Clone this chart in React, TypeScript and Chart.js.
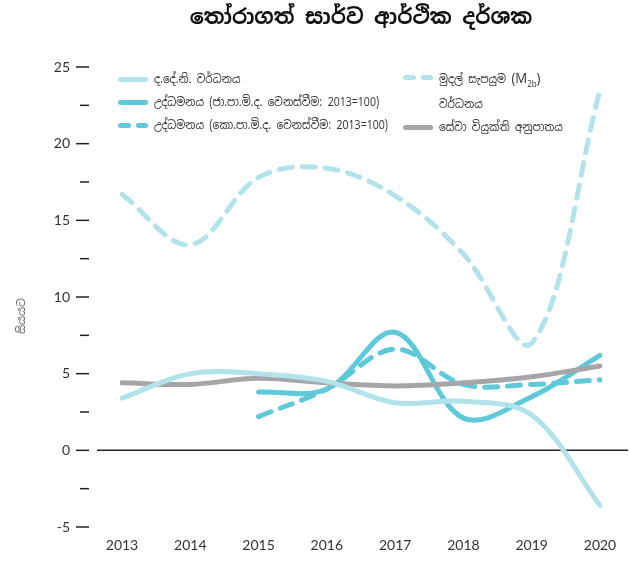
import React, { useEffect, useRef } from "react";
import { Chart, registerables } from "chart.js";

Chart.register(...registerables);

const years = ["2013", "2014", "2015", "2016", "2017", "2018", "2019", "2020"];
const gdpGrowth = [3.4, 5.0, 5.0, 4.5, 3.1, 3.2, 2.3, -3.6];
const inflationNcpi = [null, null, 3.8, 4.0, 7.7, 2.1, 3.5, 6.2];
const inflationCcpi = [null, null, 2.2, 4.0, 6.6, 4.3, 4.3, 4.6];
const m2bGrowth = [16.7, 13.4, 17.8, 18.4, 16.6, 12.8, 7.0, 23.5];
const unemployment = [4.4, 4.3, 4.7, 4.4, 4.2, 4.4, 4.8, 5.5];

const titleText = "තෝරාගත් සාර්ව ආර්ථික දර්ශක";
const yAxisTitle = "සියයට";
const labelGdp = "ද.දේ.නි. වර්ධනය";
const labelNcpi = "උද්ධමනය (ජා.පා.මි.ද. වෙනස්වීම: 2013=100)";
const labelCcpi = "උද්ධමනය (කො.පා.මි.ද. වෙනස්වීම: 2013=100)";
const labelM2bA = "මුදල් සැපයුම ";
const labelM2bB = "(M";
const labelM2bSub = "2b";
const labelM2bC = ")";
const labelM2bLine2 = "වර්ධනය";
const labelUnemp = "සේවා වියුක්ති අනුපාතය";

const LIGHT = "#b3e3ea";
const TEAL = "#5ec9d9";
const GREY = "#a6a6aa";
const FONT = "'Noto Sans Sinhala', 'Noto Sans', sans-serif";

const axisDecor = {
  id: "axisDecor",
  beforeDatasetsDraw(chart: any) {
    const { ctx, scales, chartArea } = chart;
    const y = scales.y;
    ctx.save();
    ctx.strokeStyle = "#222";
    ctx.lineWidth = 1.5;
    const y0 = y.getPixelForValue(0);
    ctx.beginPath();
    ctx.moveTo(chartArea.left - 25, y0);
    ctx.lineTo(chartArea.right + 28, y0);
    ctx.stroke();
    y.ticks.forEach((t: any) => {
      const py = y.getPixelForValue(t.value);
      const major = Math.abs(t.value % 5) < 1e-6;
      ctx.beginPath();
      ctx.moveTo(chartArea.left - (major ? 46 : 42), py);
      ctx.lineTo(chartArea.left - 33, py);
      ctx.stroke();
    });
    ctx.restore();
  },
};

function Sample({ color, dashed }: { color: string; dashed?: boolean }) {
  if (dashed) {
    return (
      <div style={{ display: "flex", gap: 5, width: 30 }}>
        <div style={{ width: 13, height: 5, borderRadius: 3, background: color }} />
        <div style={{ width: 12, height: 5, borderRadius: 3, background: color }} />
      </div>
    );
  }
  return <div style={{ width: 30, height: 5, borderRadius: 3, background: color }} />;
}

function LegendItem({ x, y, color, dashed, children }: any) {
  return (
    <div style={{ position: "absolute", left: x, top: y, display: "flex", alignItems: "flex-start" }}>
      <div style={{ marginTop: 8, marginRight: 6 }}>
        <Sample color={color} dashed={dashed} />
      </div>
      <div style={{ fontFamily: FONT, fontSize: 12, color: "#333", lineHeight: "21px", whiteSpace: "nowrap", transform: "scaleX(0.88)", transformOrigin: "left center" }}>{children}</div>
    </div>
  );
}

export default function App() {
  const ref = useRef<HTMLCanvasElement>(null);
  useEffect(() => {
    if (!ref.current) return;
    const common = { fill: false, pointRadius: 0, borderWidth: 5, tension: 0.35, borderCapStyle: "round" as const, borderJoinStyle: "round" as const };
    const chart = new Chart(ref.current, {
      type: "line",
      data: {
        labels: years,
        datasets: [
          { ...common, label: labelM2bA, data: m2bGrowth, borderColor: LIGHT, borderDash: [13, 10] },
          { ...common, label: labelGdp, data: gdpGrowth, borderColor: LIGHT },
          { ...common, label: labelUnemp, data: unemployment, borderColor: GREY },
          { ...common, label: labelCcpi, data: inflationCcpi as any, borderColor: TEAL, borderDash: [13, 10] },
          { ...common, label: labelNcpi, data: inflationNcpi as any, borderColor: TEAL },
        ],
      },
      plugins: [axisDecor],
      options: {
        animation: false,
        responsive: true,
        maintainAspectRatio: false,
        layout: { padding: { top: 67, right: 30, left: 0, bottom: 0 } },
        plugins: { legend: { display: false }, title: { display: false }, tooltip: { enabled: false } },
        scales: {
          x: {
            offset: false,
            grid: { display: false, drawTicks: false },
            border: { display: false },
            ticks: { color: "#333", font: { family: "Lato, 'Open Sans', sans-serif", size: 14 }, padding: 10, maxRotation: 0 },
            afterFit: (s: any) => { s.height = 37; },
          },
          y: {
            min: -5,
            max: 25,
            grid: { display: true, drawOnChartArea: false, drawTicks: false },
            border: { display: false },
            ticks: {
              stepSize: 2.5,
              padding: 52,
              color: "#333",
              font: { family: "Lato, 'Open Sans', sans-serif", size: 14 },
              callback: (v: any) => (Math.abs(Number(v) % 5) < 1e-6 ? String(v) : ""),
              autoSkip: false,
            },
            afterFit: (s: any) => { s.width = 122; s.paddingTop = 8; s.paddingBottom = 8; },
          },
        },
      },
    });
    return () => chart.destroy();
  }, []);

  return (
    <div style={{ position: "fixed", left: 0, top: 0, width: 630, height: 564, background: "#fff" }}>
      <div style={{ position: "absolute", left: 0, top: 0, width: 630, height: 564 }}>
        <canvas ref={ref} />
      </div>
      <div style={{ position: "absolute", left: 96, width: 530, top: 3, textAlign: "center", fontFamily: FONT, fontWeight: 700, fontSize: 21, color: "#111" }}>
        {titleText}
      </div>
      <div style={{ position: "absolute", left: 21, top: 316, transform: "translate(-50%, -50%) rotate(-90deg)", fontFamily: FONT, fontSize: 11, color: "#555", whiteSpace: "nowrap" }}>
        {yAxisTitle}
      </div>
      <LegendItem x={118} y={69} color={LIGHT}>{labelGdp}</LegendItem>
      <LegendItem x={118} y={92} color={TEAL}>{labelNcpi}</LegendItem>
      <LegendItem x={118} y={115} color={TEAL} dashed>{labelCcpi}</LegendItem>
      <LegendItem x={403} y={67} color={LIGHT} dashed>
        <span>
          {labelM2bA}
          <span style={{ fontFamily: "'Open Sans', sans-serif", fontSize: 15 }}>
            {labelM2bB}<sub style={{ fontSize: 9 }}>{labelM2bSub}</sub>{labelM2bC}
          </span>
        </span>
        <br />
        {labelM2bLine2}
      </LegendItem>
      <LegendItem x={403} y={117} color={GREY}>{labelUnemp}</LegendItem>
    </div>
  );
}
